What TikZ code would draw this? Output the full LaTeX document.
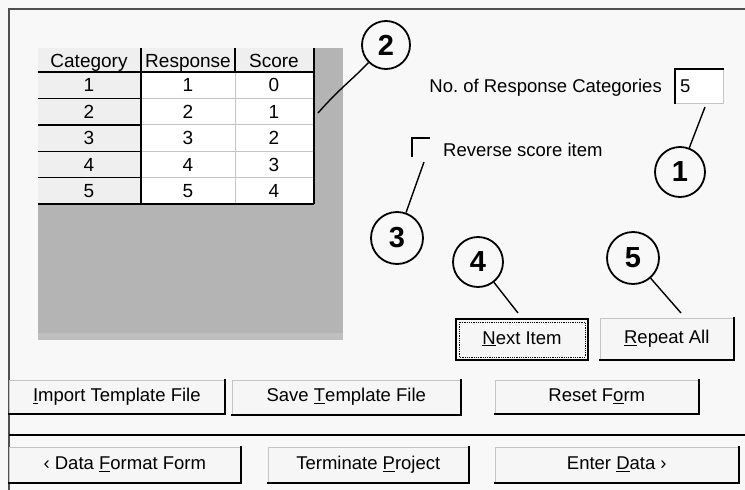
\documentclass[tikz,border=0pt]{standalone}
\usepackage{fontspec}
\setmainfont{Liberation Sans}
\definecolor{bg}{HTML}{F8F8F8}
\definecolor{areagray}{HTML}{B4B4B4}
\definecolor{hdrbg}{HTML}{EFEFEF}
\definecolor{btnbg}{HTML}{F6F6F6}
\definecolor{lightline}{HTML}{C4C4C4}
\definecolor{framecol}{HTML}{505050}
\begin{document}
\begin{tikzpicture}[x=1pt,y=-1pt,
  ui/.style={font=\fontsize{18.5}{20}\selectfont, inner sep=0pt},
  cell/.style={font=\fontsize{19}{20}\selectfont, inner sep=0pt, anchor=base},
  callout/.style={circle, draw, line width=1.8pt, minimum size=50pt, inner sep=0pt,
    fill=bg, font=\fontsize{29}{30}\selectfont\bfseries},
  leader/.style={line width=1.4pt},
  btn/.style={rectangle, fill=btnbg, draw=lightline, line width=0.6pt, anchor=north west,
    inner sep=0pt, text height=13pt, text depth=4pt, font=\fontsize{18.5}{20}\selectfont},
  btnedge/.style={line width=2pt, line cap=rect},
  darkline/.style={line width=1.4pt, black},
  thinline/.style={line width=0.8pt, lightline}
]
\useasboundingbox (0,0) rectangle (745,490);
\fill[bg] (0,0) rectangle (745,490);

% outer frame
\draw[framecol, line width=1.5pt] (9,490) -- (9,9) -- (745,9);

% gray area and table
\fill[areagray] (38,48) rectangle (343,340);
\fill[areagray!85!white] (38,333) rectangle (343,340);
\fill[hdrbg] (38,48) rectangle (314,72);
\fill[hdrbg] (38,72) rectangle (141,204);
\fill[white] (141,72) rectangle (314,204);
\foreach \k in {1,...,4} {
  \draw[thinline] (141,{72+26.4*\k}) -- (314,{72+26.4*\k});
  \draw[darkline] (38,{72+26.4*\k}) -- (141,{72+26.4*\k});
}
\draw[thinline] (235,72) -- (235,204);
\draw[darkline] (38,72) -- (314,72);
\draw[darkline] (38,204) -- (314,204);
\draw[darkline] (141,48) -- (141,204);
\draw[darkline] (235,48) -- (235,72);
\draw[darkline] (314,48) -- (314,204);

\node[cell] (hcat) at (89,67) {Category};
\node[cell] (hres) at (188,67) {Response};
\node[cell] (hsco) at (274,67) {Score};
\foreach \k/\r/\s in {1/1/0,2/2/1,3/3/2,4/4/3,5/5/4} {
  \node[cell] (cat\k) at (89,{72+26.4*\k-6.5}) {\k};
  \node[cell] (res\k) at (188,{72+26.4*\k-6.5}) {\r};
  \node[cell] (sco\k) at (274,{72+26.4*\k-6.5}) {\s};
}

% No. of response categories
\node[ui, anchor=east] (nolab) at (662,88) {No.\ of Response Categories};
\node[rectangle, fill=white, draw=lightline, line width=0.6pt, anchor=north west,
  minimum width=48pt, minimum height=34pt, inner sep=0pt] (nbox) at (675,69) {};
\draw[line width=2pt] (nbox.south west) -- (nbox.north west) -- (nbox.north east);
\node[ui, anchor=west] (nval) at (680,86) {5};

% checkbox
\node[rectangle, minimum width=18pt, minimum height=19pt, inner sep=0pt, anchor=north west] (chk) at (412,138) {};
\draw[line width=2pt] (chk.south west) -- (chk.north west) -- (chk.north east);
\node[ui, anchor=west] (chklab) at (443,150) {Reverse score item};

% Next Item button (default, focused)
\node[btn, draw=black, line width=2pt, minimum width=132pt, minimum height=41pt] (next) at (455,318) {\underline{N}ext Item};
\draw[densely dotted, line width=0.8pt] ([shift={(4pt,4pt)}]next.south west) rectangle ([shift={(-4pt,-4pt)}]next.north east);

% Repeat All button
\node[btn, minimum width=133pt, minimum height=41pt] (rep) at (600,318) {\underline{R}epeat All};
\draw[btnedge] (rep.south west) -- (rep.south east) -- (rep.north east);

% row 1 buttons
\node[btn, minimum width=215pt, minimum height=33pt] (imp) at (9,380) {\underline{I}mport Template File};
\draw[btnedge] (imp.south west) -- (imp.south east) -- (imp.north east);
\node[btn, minimum width=228pt, minimum height=34pt] (save) at (232,380) {Save \underline{T}emplate File};
\draw[btnedge] (save.south west) -- (save.south east) -- (save.north east);
\node[btn, minimum width=203pt, minimum height=33pt] (reset) at (495,380) {Reset F\underline{o}rm};
\draw[btnedge] (reset.south west) -- (reset.south east) -- (reset.north east);

% separator
\draw[line width=2pt] (9,435) -- (745,435);

% row 2 buttons
\node[btn, minimum width=231pt, minimum height=35pt] (dff) at (9,447) {‹ Data \underline{F}ormat Form};
\draw[btnedge] (dff.south west) -- (dff.south east) -- (dff.north east);
\node[btn, minimum width=200pt, minimum height=35pt] (term) at (268,447) {Terminate \underline{P}roject};
\draw[btnedge] (term.south west) -- (term.south east) -- (term.north east);
\node[btn, minimum width=243pt, minimum height=35pt] (enter) at (495,447) {Enter \underline{D}ata ›};
\draw[btnedge] (enter.south west) -- (enter.south east) -- (enter.north east);

% callouts
\node[callout] (c1) at (680,172) {1};
\node[callout, minimum size=48pt] (c2) at (386,45) {2};
\node[callout, minimum size=52pt] (c3) at (397,238) {3};
\node[callout] (c4) at (478,262) {4};
\node[callout, minimum size=52pt] (c5) at (633,258) {5};

\coordinate (t1) at (705,107);
\coordinate (t2) at (318,113);
\coordinate (t3) at (424,162);
\coordinate (t4) at (518,313);
\coordinate (t5) at (681,313);

\draw[leader] (c1) -- (t1);
\draw[leader] (c2.225) .. controls (352,80) and (340,88) .. (t2);
\draw[leader] (c3) -- (t3);
\draw[leader] (c4) -- (t4);
\draw[leader] (c5) -- (t5);
\end{tikzpicture}
\end{document}
